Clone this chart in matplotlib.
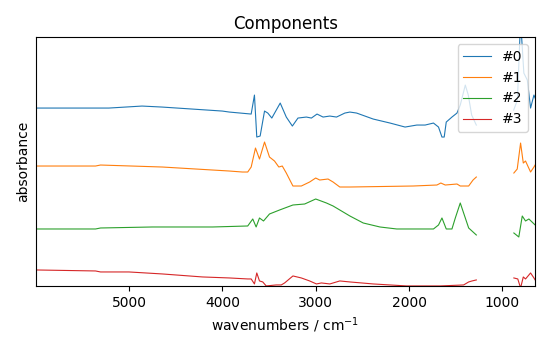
import numpy as np
import matplotlib
matplotlib.use('Agg')
import matplotlib.pyplot as plt

# Komponenten-Spektren (versetzt dargestellt), Lücke = nan
wn0 = [5998, 5215, 4860, 4645, 4000, 3925, 3691, 3656, 3631, 3595, 3548, 3513, 3470, 3380,
       3315, 3250, 3190, 3100, 3046, 2986, 2921, 2849, 2777, 2688, 2634, 2562, 2384, 2204,
       2043, 1917, 1828, 1739, 1685, 1648, 1624, 1602, 1541, 1487, 1452, 1398, 1366, 1330,
       1280, 1100, 880, 840, 806, 771, 734, 699, 663, 650]
a0 = [1.78, 1.78, 1.80, 1.79, 1.75, 1.74, 1.72, 1.91, 1.49, 1.50, 1.75, 1.73, 1.68, 1.83,
      1.69, 1.60, 1.68, 1.69, 1.68, 1.72, 1.69, 1.70, 1.69, 1.73, 1.74, 1.73, 1.67, 1.63,
      1.59, 1.61, 1.61, 1.63, 1.59, 1.49, 1.49, 1.64, 1.69, 1.73, 1.81, 2.01, 1.91, 1.71,
      1.61, np.nan, 1.76, 1.86, 2.66, 2.13, 2.06, 1.78, 1.91, 1.88]

wn1 = [5998, 5358, 5304, 4642, 4283, 3925, 3785, 3728, 3691, 3645, 3602, 3548, 3495, 3441,
       3395, 3358, 3315, 3244, 3154, 3065, 3000, 2957, 2868, 2814, 2742, 2634, 1957, 1702,
       1660, 1613, 1487, 1452, 1362, 1315, 1280, 1100, 878, 842, 806, 777, 753, 699, 663, 650]
a1 = [1.20, 1.20, 1.21, 1.19, 1.17, 1.15, 1.14, 1.14, 1.19, 1.38, 1.27, 1.44, 1.29, 1.25,
      1.19, 1.20, 1.13, 1.00, 1.00, 1.04, 1.08, 1.06, 1.07, 1.04, 0.99, 0.99, 1.00, 1.01,
      1.03, 1.01, 1.02, 1.00, 1.00, 1.06, 1.09, np.nan, 1.13, 1.17, 1.43, 1.23, 1.25, 1.14,
      1.19, 1.21]

wn2 = [5998, 5358, 5304, 4749, 4104, 3728, 3674, 3638, 3602, 3559, 3495, 3387, 3244, 3118,
       3000, 2885, 2814, 2634, 2491, 2312, 2132, 1739, 1685, 1648, 1602, 1541, 1505, 1452,
       1398, 1362, 1280, 1100, 878, 825, 788, 753, 717, 650]
a2 = [0.57, 0.57, 0.58, 0.59, 0.59, 0.60, 0.67, 0.59, 0.68, 0.65, 0.72, 0.76, 0.81, 0.82,
      0.87, 0.83, 0.80, 0.70, 0.63, 0.59, 0.57, 0.57, 0.61, 0.68, 0.57, 0.57, 0.68, 0.83,
      0.68, 0.58, 0.51, np.nan, 0.53, 0.49, 0.70, 0.65, 0.67, 0.61]

wn3 = [5998, 5358, 5304, 5000, 4642, 4212, 3925, 3728, 3691, 3656, 3631, 3602, 3567, 3530,
       3423, 3369, 3333, 3244, 3154, 3065, 2992, 2939, 2849, 2742, 2634, 2384, 2025, 1667,
       1416, 1362, 1326, 1280, 1100, 878, 836, 806, 777, 753, 699, 663, 650]
a3 = [0.16, 0.15, 0.14, 0.14, 0.12, 0.09, 0.08, 0.07, 0.07, 0.02, 0.13, 0.05, 0.04, 0.00,
      0.01, 0.01, 0.03, 0.10, 0.08, 0.05, 0.02, 0.03, 0.02, 0.05, 0.04, 0.02, 0.00, 0.00,
      0.01, 0.04, 0.05, 0.06, np.nan, 0.08, 0.07, -0.02, 0.09, 0.07, 0.13, 0.08, 0.06]

labels = ['#0', '#1', '#2', '#3']

fig = plt.figure(figsize=(5.5, 3.5), dpi=100)
ax = fig.add_axes([0.065, 0.183, 0.908, 0.711])

for wn, a, lab in zip([wn0, wn1, wn2, wn3], [a0, a1, a2, a3], labels):
    ax.plot(wn, a, linewidth=0.8, label=lab)

# x-Achse absteigend (Wellenzahlen)
ax.set_xlim(5998, 650)
ax.set_ylim(0, 2.49)
ax.set_yticks([])
ax.set_title('Components')
ax.set_xlabel('wavenumbers / cm$^{-1}$')
ax.set_ylabel('absorbance')
ax.legend(loc='upper right')

fig.savefig('out.png', dpi=100)
